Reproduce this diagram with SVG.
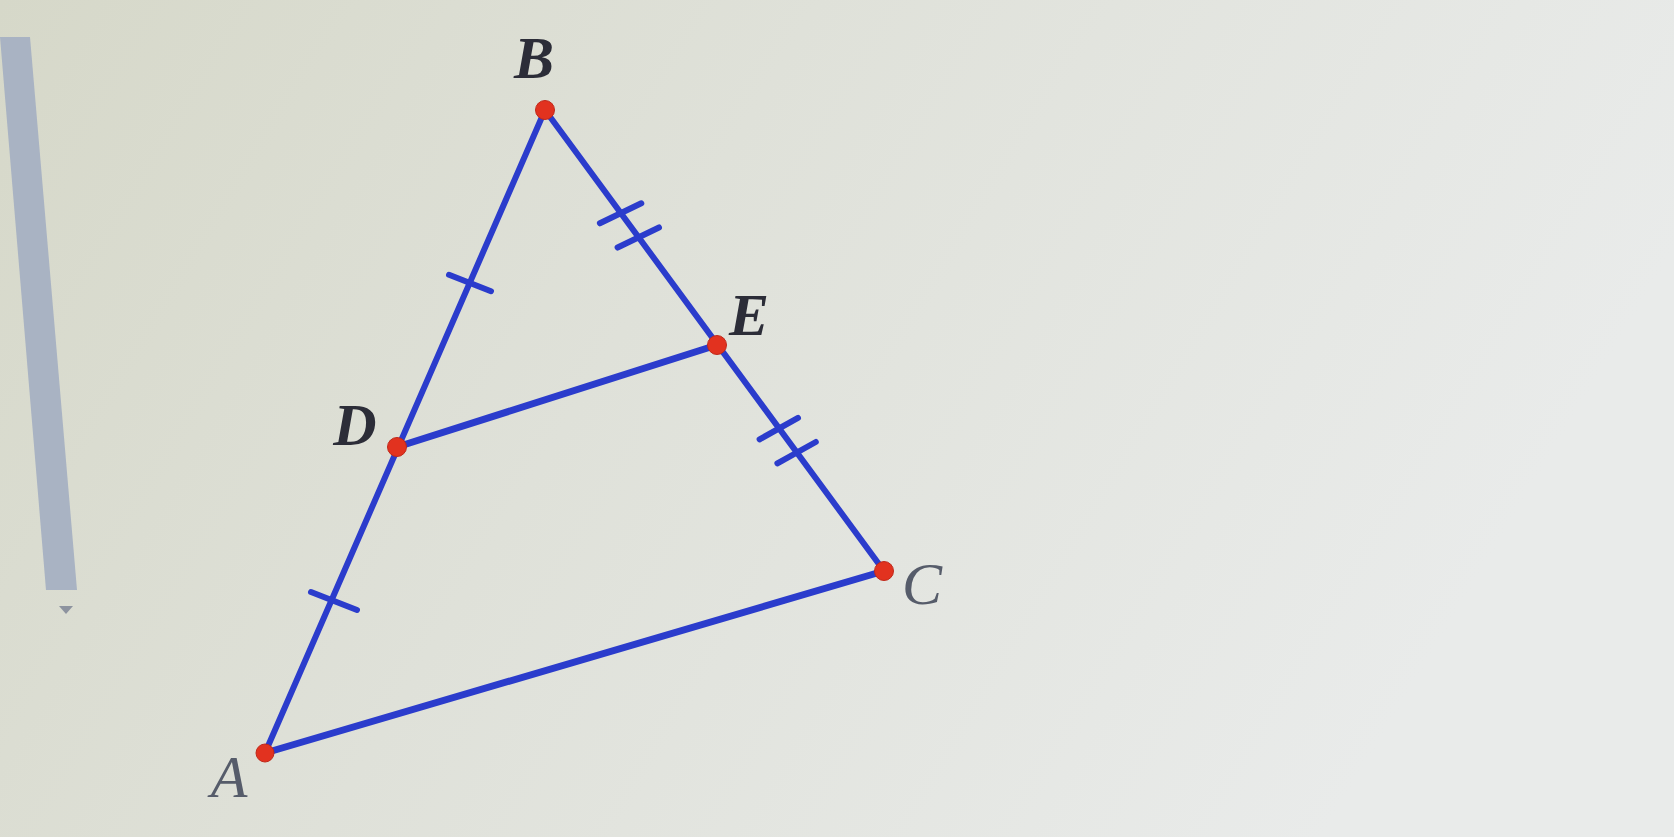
<svg xmlns="http://www.w3.org/2000/svg" width="1674" height="837" viewBox="0 0 1674 837">
  <defs>
    <linearGradient id="bg" x1="0" y1="0" x2="1" y2="0.3">
      <stop offset="0" stop-color="#d6d8c9"/>
      <stop offset="0.45" stop-color="#dfe1d9"/>
      <stop offset="1" stop-color="#e9ebea"/>
    </linearGradient>
    <style>
      .seg { stroke: #2b3ccc; stroke-linecap: round; fill: none; }
      .tick { stroke: #2b3ccc; stroke-width: 6; stroke-linecap: round; }
      .dot { fill: #e2321f; stroke: #c0281a; stroke-width: 1; }
      .lbl { font-family: "Liberation Serif", "Times New Roman", serif; font-style: italic; font-weight: bold; font-size: 60px; text-anchor: middle; fill: #2c2d38; }
      .lbl.light { fill: #565c6a; font-weight: normal; }
    </style>
  </defs>
  <rect x="0" y="0" width="1674" height="837" fill="url(#bg)"/>
  <polygon points="0,37 30,37 77,590 46,590" fill="#a9b3c3"/>
  <polygon points="59,606 73,606 66,614" fill="#8d939f"/>

  <g id="connectors">
    <line class="seg" x1="265" y1="753" x2="545" y2="110" stroke-width="6"/>
    <line class="seg" x1="545" y1="110" x2="884" y2="571" stroke-width="6"/>
    <line class="seg" x1="265" y1="753" x2="884" y2="571" stroke-width="7"/>
    <line class="seg" x1="397" y1="447" x2="717" y2="345" stroke-width="7"/>
  </g>

  <g id="ticks">
    <line class="tick" x1="449" y1="274.8" x2="491" y2="291.2"/>
    <line class="tick" x1="311" y1="592" x2="357" y2="610"/>
    <line class="tick" x1="599.9" y1="223.3" x2="641.3" y2="203.3"/>
    <line class="tick" x1="617.6" y1="247.5" x2="659" y2="227.5"/>
    <line class="tick" x1="759.6" y1="439.3" x2="798" y2="417.9"/>
    <line class="tick" x1="777.4" y1="463.4" x2="815.8" y2="442"/>
  </g>

  <g id="node-A">
    <circle class="dot" cx="265" cy="753" r="9"/>
    <text class="lbl light" x="229" y="797" font-size="52">A</text>
  </g>
  <g id="node-B">
    <circle class="dot" cx="545" cy="110" r="9.5"/>
    <text class="lbl" x="534" y="78">B</text>
  </g>
  <g id="node-C">
    <circle class="dot" cx="884" cy="571" r="9.5"/>
    <text class="lbl light" x="922" y="604">C</text>
  </g>
  <g id="node-D">
    <circle class="dot" cx="397" cy="447" r="9.5"/>
    <text class="lbl" x="355" y="445">D</text>
  </g>
  <g id="node-E">
    <circle class="dot" cx="717" cy="345" r="9.5"/>
    <text class="lbl" x="749" y="335">E</text>
  </g>
</svg>
